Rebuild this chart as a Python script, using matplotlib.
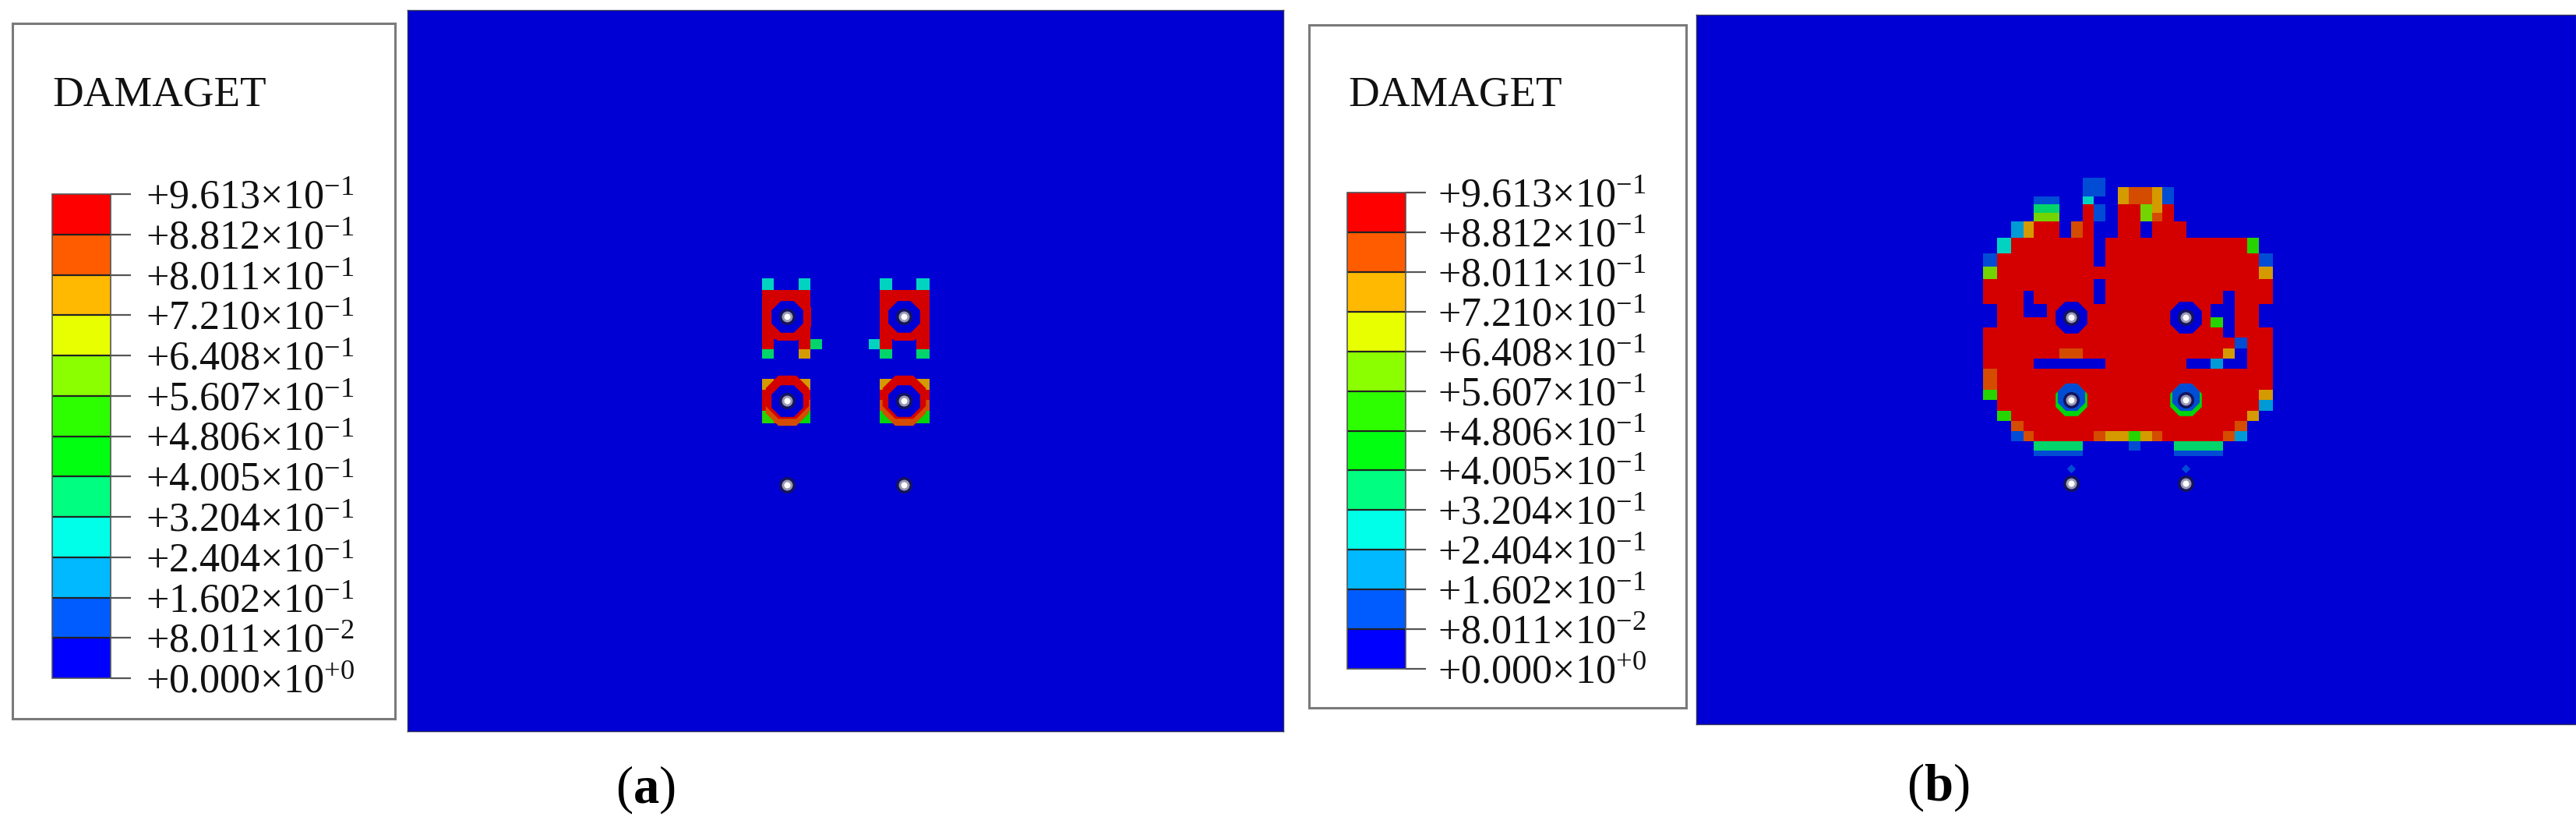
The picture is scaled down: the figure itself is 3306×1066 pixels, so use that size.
#!/usr/bin/env python3
"""DAMAGET contour plots (a) and (b) with their Abaqus style legends."""

import matplotlib
matplotlib.use("Agg")
import matplotlib.pyplot as plt
import numpy as np
from matplotlib.cm import ScalarMappable
from matplotlib.colors import BoundaryNorm, ListedColormap, to_rgb

W, H = 3306, 1066

plt.rcParams["font.family"] = ["Liberation Serif", "DejaVu Serif"]
plt.rcParams["mathtext.fontset"] = "custom"
plt.rcParams["mathtext.rm"] = "Liberation Serif"
plt.rcParams["mathtext.bf"] = "Liberation Serif:bold"
plt.rcParams["mathtext.default"] = "rm"

# legend values, low to high, and the band colours between them
LEVEL_VALUES = [0.0, 0.08011, 0.1602, 0.2404, 0.3204, 0.4005, 0.4806,
                0.5607, 0.6408, 0.7210, 0.8011, 0.8812, 0.9613]
LEVEL_LABELS = ["+0.000", "+8.011", "+1.602", "+2.404", "+3.204", "+4.005", "+4.806",
                "+5.607", "+6.408", "+7.210", "+8.011", "+8.812", "+9.613"]
LEVEL_EXPONENTS = ["+0", "-2", "-1", "-1", "-1", "-1", "-1",
                   "-1", "-1", "-1", "-1", "-1", "-1"]
BAND_COLORS = ["#0000ff", "#005cff", "#00b9ff", "#00ffe8", "#00ff80", "#00ff10",
               "#2eff00", "#8bff00", "#e8ff00", "#ffb900", "#ff5c00", "#ff0000"]
# one letter per band, same order as BAND_COLORS
BAND_KEYS = ".bsctGglymor"

# panel (a): element edges in zoomed px, one string per element row
A_COL_EDGES = [143, 190, 240, 285, 330, 375, 555, 598, 645, 690, 737, 790]
A_ROW_EDGES = [80, 125, 315, 355, 390, 468, 510, 550, 590, 640]
A_FIELD = [
    "c..c...c..c",
    "rrrr...rrrr",
    "r..rt.cr..r",
    "t..m...t..t",
    "...........",
    "mrrm...mrrm",
    "rrrr...rrrr",
    "rrro...orro",
    "gooG...GooG",
]
A_RING_X = [240, 690]
A_RING_UPPER_Y = 228
A_RING_LOWER_Y = 552
A_BOLT_X = [240, 240, 240, 690, 690, 690]
A_BOLT_Y = [228, 552, 877, 228, 552, 877]

# panel (b)
B_COL_EDGES = [135, 188, 243, 290, 330, 380, 428, 473, 520, 560, 607, 655, 695,
               740, 787, 825, 870, 918, 965, 1010, 1060, 1105, 1152, 1198, 1250]
B_ROW_EDGES = [55, 90, 125, 157, 190, 222, 285, 345, 397, 445, 490, 540, 590, 630,
               670, 710, 750, 790, 830, 870, 910, 950, 990, 1030, 1068, 1105, 1125]
B_FIELD = [
    "........bb..............",
    "........bb.moomb........",
    "....bb..c..moomb........",
    "....tt..rb.rrlmr........",
    "....ll..rb.rrlor........",
    "..smrr.or..rr.rrr.......",
    ".crrrrrrr.rrrrrrrrrrrrg.",
    "brrrrrrrr.rrrrrrrrrrrrrb",
    "lrrrrrrrrrrrrrrrrrrrrrrm",
    "rrrrrrrrr.rrrrrrrrrrrrrr",
    "rrr.rrrrr.rrrrrrrrrr.rrr",
    ".rr..rrrrrrrrrrrrrr..rr.",
    ".rrrrrrrrrrrrrrrrrrg.rr.",
    "rrrrrrrrrrrrrrrrrrrr.rrr",
    "rrrrrrrrrrrrrrrrrrrrrbrr",
    "rrrrrroorrrrrrrrrrrrm.rr",
    "rrrr......rrrrrrr..s..rr",
    "orrrrrrrrrrrrrrrrrrrrrrr",
    "orrrrrrrrrrrrrrrrrrrrrrr",
    "grrrrrrrrrrrrrrrrrrrrrrm",
    ".rrrrrrrrrrrrrrrrrrrrrrs",
    ".grrrrrrrrrrrrrrrrrrrrm.",
    "..orrrrrrrrrrrrrrrrrro..",
    "..borrrrrommgmorrrrros..",
    "....tttt....b...tttt....",
    "....bbbb........bbbb....",
]
B_RING_X = [473, 915]
B_RING_UPPER_Y = 590
B_RING_LOWER_Y = 910
B_BOLT_X = [473, 915, 473, 915, 473, 915]
B_BOLT_Y = [590, 590, 910, 910, 1230, 1230]
B_DOT_X = [473, 915]
B_DOT_Y = [1172, 1172]

FIELD_DIM = 0.83
field_cmap = ListedColormap([tuple(FIELD_DIM * c for c in to_rgb(col)) for col in BAND_COLORS])
DARK = field_cmap(0)
RED = field_cmap(11)
ORANGE = field_cmap(10)


def px_axes(fig, left, top, right, bottom):
    return fig.add_axes([left / W, 1 - bottom / H, (right - left) / W, (bottom - top) / H])


def to_levels(rows):
    return np.array([[BAND_KEYS.index(ch) for ch in row] for row in rows])


def dots(ax, x, y, diameter, color, marker="o", zorder=3):
    ax.scatter(x, y, s=(diameter * 72 / 100) ** 2, c=[color], marker=marker,
               linewidths=0, zorder=zorder)


def make_bolts(ax, x, y):
    dots(ax, x, y, 21, "#14145c", zorder=5)
    dots(ax, x, y, 14, "#9a9ab4", zorder=6)
    dots(ax, x, y, 8, "white", zorder=7)


def make_panel(fig, box, origin, col_edges, row_edges, field):
    left, top, right, bottom = box
    ax = px_axes(fig, left, top, right, bottom)
    ax.set_xlim(left, right)
    ax.set_ylim(bottom, top)
    ax.set_facecolor(DARK)
    xs = origin[0] + np.array(col_edges) / 3
    ys = origin[1] + np.array(row_edges) / 3
    ax.pcolormesh(xs, ys, to_levels(field), cmap=field_cmap, vmin=-0.5, vmax=11.5,
                  shading="flat", antialiased=False)
    ax.set_xticks([])
    ax.set_yticks([])
    for spine in ax.spines.values():
        spine.set_linewidth(1.0)
        spine.set_color("#30305a")
    return ax


def make_legend(fig, box, bar, title_x, tick_pad):
    left, top, right, bottom = box
    frame = px_axes(fig, left, top, right, bottom)
    frame.set_xticks([])
    frame.set_yticks([])
    for spine in frame.spines.values():
        spine.set_linewidth(2.2)
        spine.set_color("#7a7a7a")
    fig.text(title_x / W, 1 - 136 / H, "DAMAGET", fontsize=39.5, color="#111111",
             ha="left", va="baseline")

    cax = px_axes(fig, *bar)
    norm = BoundaryNorm(LEVEL_VALUES, len(BAND_COLORS))
    sm = ScalarMappable(norm=norm, cmap=ListedColormap(BAND_COLORS))
    cbar = fig.colorbar(sm, cax=cax, spacing="uniform", drawedges=True)
    labels = [rf"{val}$\times$10$^{{{exp.replace('-', chr(8722))}}}$"
              for val, exp in zip(LEVEL_LABELS, LEVEL_EXPONENTS)]
    cbar.set_ticks(LEVEL_VALUES, labels=labels)
    cbar.minorticks_off()
    cbar.dividers.set_color("#222222")
    cbar.dividers.set_linewidth(1.6)
    cbar.outline.set_edgecolor("#555555")
    cbar.outline.set_linewidth(1.2)
    cax.tick_params(axis="y", length=18.5, width=1.6, color="#555555", pad=tick_pad,
                    labelsize=37.5, labelcolor="#111111")
    for tick in cax.get_yticklabels():
        tick.set_verticalalignment("center_baseline")


def main():
    fig = plt.figure(figsize=(W / 100, H / 100), dpi=100, facecolor="white")

    # --- panel (a) ---
    ax_a = make_panel(fig, (523, 13, 1647, 938), (930, 330), A_COL_EDGES, A_ROW_EDGES, A_FIELD)
    ring_x = 930 + np.array(A_RING_X) / 3
    upper_y = np.full(2, 330 + A_RING_UPPER_Y / 3)
    lower_y = np.full(2, 330 + A_RING_LOWER_Y / 3)
    dots(ax_a, ring_x, upper_y, 66, RED, marker="8", zorder=2)
    # lower rings are orange along the bottom only
    dots(ax_a, ring_x, lower_y + 4, 60, ORANGE, marker="8", zorder=2)
    dots(ax_a, ring_x, lower_y - 5, 60, RED, marker="8", zorder=2)
    dots(ax_a, ring_x, upper_y, 44, DARK, marker="8")
    dots(ax_a, ring_x, lower_y, 44, DARK, marker="8")
    make_bolts(ax_a, 930 + np.array(A_BOLT_X) / 3, 330 + np.array(A_BOLT_Y) / 3)
    make_legend(fig, (16, 30, 507, 922), (67, 249, 142, 870), 67, 14)
    fig.text(828 / W, 1 - 1013 / H, r"($\mathbf{a}$)", fontsize=48, color="black",
             ha="center", va="center")

    # --- panel (b) ---
    ax_b = make_panel(fig, (2177, 19, 3306, 929), (2500, 210), B_COL_EDGES, B_ROW_EDGES, B_FIELD)
    ring_x = 2500 + np.array(B_RING_X) / 3
    dots(ax_b, ring_x, np.full(2, 210 + B_RING_UPPER_Y / 3), 44, DARK, marker="8")
    dots(ax_b, ring_x, np.full(2, 210 + B_RING_LOWER_Y / 3), 44, field_cmap(5), marker="8")
    dots(ax_b, ring_x, np.full(2, 210 + (B_RING_LOWER_Y - 12) / 3), 38, field_cmap(1), marker="8", zorder=4)
    make_bolts(ax_b, 2500 + np.array(B_BOLT_X) / 3, 210 + np.array(B_BOLT_Y) / 3)
    dots(ax_b, 2500 + np.array(B_DOT_X) / 3, 210 + np.array(B_DOT_Y) / 3, 8, field_cmap(1), marker="D")
    make_legend(fig, (1680, 32, 2164, 908), (1729, 247, 1804, 858), 1730, 11)
    fig.text(2487 / W, 1 - 1010 / H, r"($\mathbf{b}$)", fontsize=48, color="black",
             ha="center", va="center")

    fig.savefig("out.png", dpi=100)
    plt.close(fig)


if __name__ == "__main__":
    main()
